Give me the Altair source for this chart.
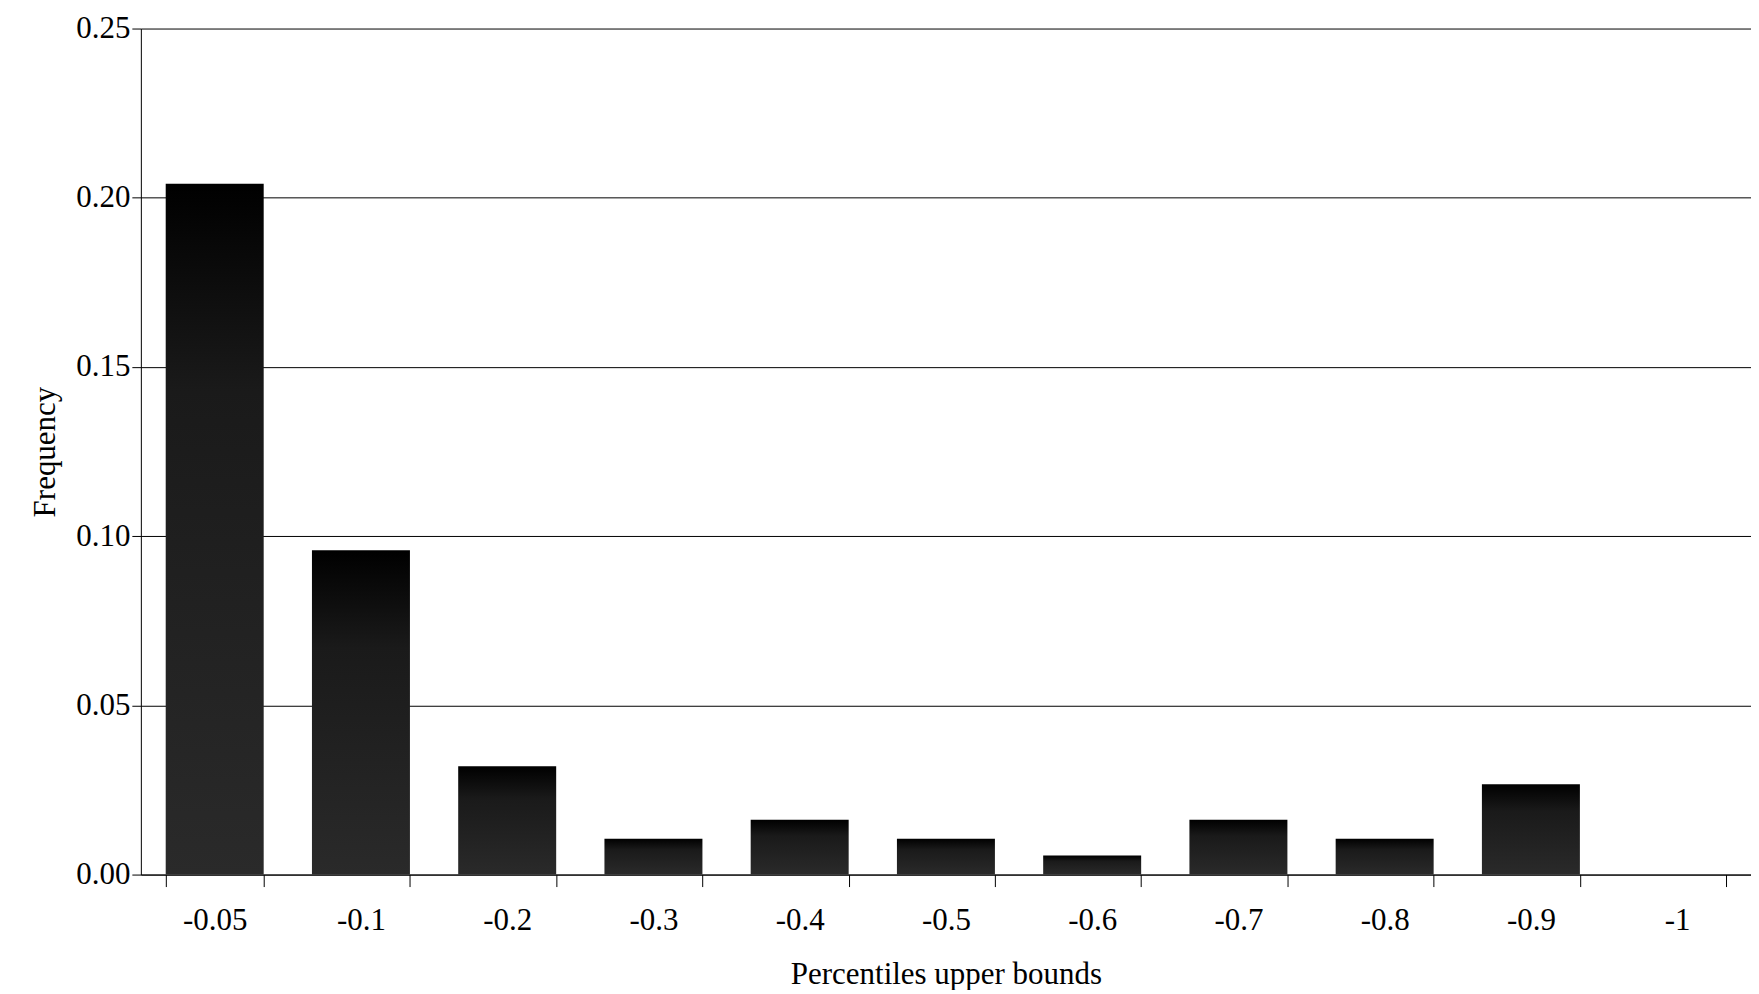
import altair as alt
import pandas as pd

bounds = ["-0.05", "-0.1", "-0.2", "-0.3", "-0.4", "-0.5", "-0.6", "-0.7", "-0.8", "-0.9", "-1"]
freq = [0.2041, 0.0958, 0.0320, 0.0106, 0.0162, 0.0106, 0.0056, 0.0162, 0.0106, 0.0267, 0.0]

df = pd.DataFrame({"bound": bounds, "freq": freq})

fill = alt.Gradient(
    gradient="linear", x1=0, x2=0, y1=0, y2=1,
    stops=[alt.GradientStop(color="#000000", offset=0),
           alt.GradientStop(color="#1a1a1a", offset=0.3),
           alt.GradientStop(color="#2a2a2a", offset=1)],
)

chart = alt.Chart(df).mark_bar(color=fill).encode(
    x=alt.X("bound:N", sort=bounds, title="Percentiles upper bounds",
            scale=alt.Scale(paddingInner=0.33, paddingOuter=0.17),
            axis=alt.Axis(labelAngle=0, tickBand="extent", tickSize=12, labelPadding=19,
                          titlePadding=24, domainColor="black", tickColor="black")),
    y=alt.Y("freq:Q", title="Frequency",
            scale=alt.Scale(domain=[0, 0.25]),
            axis=alt.Axis(values=[0, 0.05, 0.1, 0.15, 0.2, 0.25], format=".2f",
                          grid=True, gridColor="black", gridWidth=1, tickSize=9,
                          domainColor="black", tickColor="black", titlePadding=14)),
).properties(
    width=1612, height=847,
    padding={"left": 21, "top": 4, "right": 0, "bottom": 0},
).configure_view(stroke=None).configure_axis(
    labelFont="Liberation Serif", titleFont="Liberation Serif",
    labelFontSize=31, titleFontSize=31, titleFontWeight="normal", labelColor="black", titleColor="black",
)

chart.save("out.html", embed_options={"renderer": "svg", "actions": False})
